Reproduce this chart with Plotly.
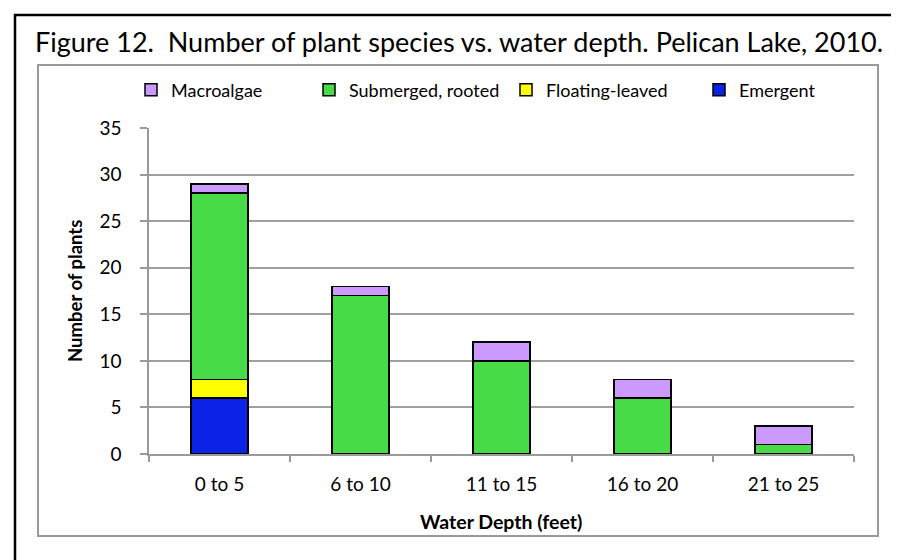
import plotly.graph_objects as go

categories = ["0 to 5", "6 to 10", "11 to 15", "16 to 20", "21 to 25"]
emergent = [6, 0, 0, 0, 0]
floating_leaved = [2, 0, 0, 0, 0]
submerged_rooted = [20, 17, 10, 6, 1]
macroalgae = [1, 1, 2, 2, 2]

series_names = ["Emergent", "Floating-leaved", "Submerged, rooted", "Macroalgae"]
series_values = [emergent, floating_leaved, submerged_rooted, macroalgae]
series_colors = ["#0A23E6", "#FFFF00", "#47DB47", "#CC99FF"]

title_text = "Figure 12.  Number of plant species vs. water depth. Pelican Lake, 2010."
x_title = "Water Depth (feet)"
y_title = "Number of plants"

FONT = "Lato, 'Open Sans', sans-serif"
W, H = 899, 560
L, R, T, B = 141, 846, 120, 446


def px(x):
    return (x - L) / (R - L)


def py(y):
    return (B - y) / (B - T)


# left edge (px) of each legend swatch, in order Emergent, Floating, Submerged, Macroalgae
legend_box_x = [705, 512, 315, 137]
legend_ids = ["legend4", "legend3", "legend2", "legend"]

fig = go.Figure()
for name, vals, col, lid in zip(series_names, series_values, series_colors, legend_ids):
    fig.add_trace(go.Bar(
        x=categories, y=vals, name=name, legend=lid,
        marker=dict(color=col, line=dict(color="#000000", width=1.5)),
    ))

legend_layouts = {}
for lid, bx in zip(legend_ids, legend_box_x):
    legend_layouts[lid] = dict(
        orientation="h",
        x=px(bx - 14), xanchor="left", y=py(82), yanchor="middle",
        font=dict(family=FONT, size=18, color="#000000"),
        itemwidth=30, bgcolor="rgba(0,0,0,0)", borderwidth=0,
    )

fig.update_layout(
    width=W, height=H,
    margin=dict(l=L, r=W - R, t=T, b=H - B, pad=0),
    paper_bgcolor="white", plot_bgcolor="white",
    barmode="stack", bargap=0.595,
    font=dict(family=FONT, size=19, color="#000000"),
    showlegend=True,
    xaxis=dict(
        showline=True, linecolor="#9A9A9A", linewidth=1.5,
        ticks="outside", tickson="boundaries", ticklen=6, tickcolor="#9A9A9A",
        tickwidth=1.5, showgrid=False, ticklabelstandoff=12,
        tickfont=dict(family=FONT, size=19),
    ),
    yaxis=dict(
        range=[0, 35], dtick=5, tick0=0,
        showline=True, linecolor="#9A9A9A", linewidth=1.5,
        ticks="outside", ticklen=7, tickcolor="#9A9A9A", tickwidth=1.5,
        showgrid=True, gridcolor="#A0A0A0", gridwidth=1.5,
        zeroline=False, ticklabelstandoff=15,
        tickfont=dict(family=FONT, size=19),
    ),
    shapes=[
        dict(type="rect", xref="paper", yref="paper",
             x0=px(30), x1=px(870), y0=py(528), y1=py(57),
             line=dict(color="#9A9A9A", width=2), layer="below"),
        dict(type="rect", xref="paper", yref="paper",
             x0=px(7), x1=px(960), y0=py(620), y1=py(7),
             line=dict(color="#000000", width=2.5), layer="below"),
    ],
    annotations=[
        dict(text=title_text, xref="paper", yref="paper",
             x=px(25), y=py(34), xanchor="left", yanchor="middle",
             showarrow=False, font=dict(family=FONT, size=27, color="#000000")),
        dict(text="<b>" + x_title + "</b>", xref="paper", yref="paper",
             x=px(493), y=py(513), xanchor="center", yanchor="middle",
             showarrow=False, font=dict(family=FONT, size=19.5, color="#000000")),
        dict(text="<b>" + y_title + "</b>", xref="paper", yref="paper",
             x=px(67), y=py(283), xanchor="center", yanchor="middle",
             textangle=-90,
             showarrow=False, font=dict(family=FONT, size=18.5, color="#000000")),
    ],
)
fig.update_layout(**legend_layouts)

fig.write_html("out.html")
